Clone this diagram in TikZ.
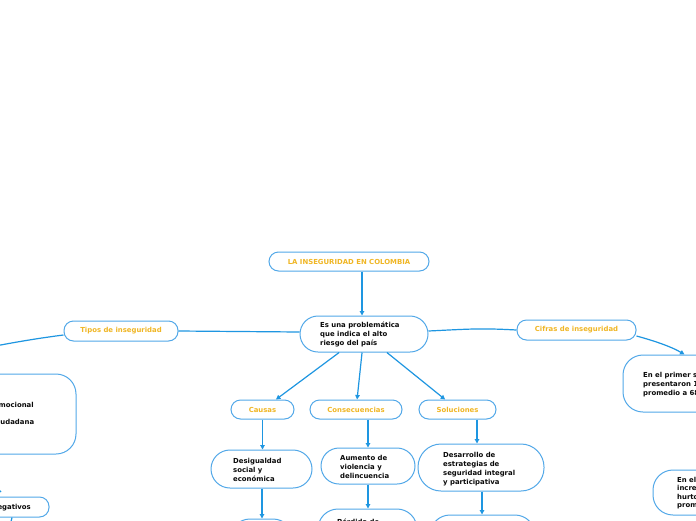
\documentclass[tikz,border=0pt]{standalone}
\usepackage{fontspec}
\setmainfont{DejaVu Sans}
\usetikzlibrary{arrows.meta,calc}
\definecolor{edgeblue}{RGB}{82,168,232}
\definecolor{arrblue}{RGB}{30,150,225}
\definecolor{gold}{RGB}{240,182,36}
\definecolor{ink}{RGB}{10,10,10}
\tikzset{
 box/.style={draw=edgeblue, line width=1pt, fill=white, inner sep=0pt},
 pill/.style={box, rounded corners=9.5pt},
 lbl/.style={font=\fontsize{6.9}{9}\selectfont\bfseries, text=gold},
 txt/.style={font=\fontsize{6.9}{9}\selectfont\bfseries, text=ink, align=left, inner sep=0pt, anchor=west},
 arr/.style={draw=arrblue, line width=1.2pt, -{Triangle[length=4.5pt,width=4.5pt]}},
 link/.style={draw=arrblue, line width=1.2pt},
}
\begin{document}
\begin{tikzpicture}[x=1pt,y=-1pt]
\useasboundingbox (0,0) rectangle (696,520);
\clip (0,0) rectangle (696,520);
\fill[white] (0,0) rectangle (696,520);

% main nodes
\node[pill, lbl, minimum width=160pt, minimum height=19pt] (title) at (349,261.5) {LA INSEGURIDAD EN COLOMBIA};
\node[box, rounded corners=18pt, minimum width=128pt, minimum height=36pt] (central) at (364,334) {};
\node[txt] (centralT) at (320,334) {Es una problemática\\que indica el alto\\riesgo del país};

\node[pill, lbl, minimum width=114pt, minimum height=20pt] (tipos) at (121,331) {Tipos de inseguridad};
\node[pill, lbl, minimum width=119pt, minimum height=20pt] (cifras) at (576.5,330) {Cifras de inseguridad};

\node[pill, lbl, minimum width=63pt, minimum height=19pt] (causas) at (262.5,409.5) {Causas};
\node[pill, lbl, minimum width=92pt, minimum height=19pt] (consec) at (356,409.5) {Consecuencias};
\node[pill, lbl, minimum width=77pt, minimum height=19pt] (soluc) at (457.5,409.5) {Soluciones};

% second level
\node[box, rounded corners=19pt, minimum width=101pt, minimum height=38pt] (desig) at (261.5,469) {};
\node[txt] (desigT) at (233,470) {Desigualdad\\social y\\económica};
\node[box, rounded corners=18pt, minimum width=94pt, minimum height=36pt] (aumento) at (368,466) {};
\node[txt] (aumentoT) at (340,467) {Aumento de\\violencia y\\delincuencia};
\node[box, rounded corners=23pt, minimum width=126pt, minimum height=47pt] (desarr) at (481,467.5) {};
\node[txt] (desarrT) at (443,469) {Desarrollo de\\estrategias de\\seguridad integral\\y participativa};

% third level (cut by the edge)
\node[box, rounded corners=20pt, minimum width=63pt, minimum height=40pt] (desigC) at (261.5,539) {};
\node[box, rounded corners=20pt, minimum width=99pt, minimum height=40pt] (aumentoC) at (367.5,529) {};
\node[txt, anchor=base west] (aumentoCT) at (337,524.5) {Pérdida de};
\node[box, rounded corners=20pt, minimum width=105pt, minimum height=40pt] (desarrC) at (482.5,535) {};

% left side (cut by the edge)
\node[box, rounded corners=20pt, minimum width=150pt, minimum height=80pt] (tiposbox) at (1,414) {};
\node[txt] (tiposT) at (-55,414.5) {Inseguridad emocional\\[8pt]Inseguridad ciudadana};
\node[pill, minimum width=110pt, minimum height=20pt] (efectos) at (-6,507) {};
\node[txt, anchor=east] (efectosT) at (31,507.5) {Efectos negativos};

% right side (cut by the edge)
\node[box, rounded corners=20pt, minimum width=140pt, minimum height=57pt] (enel) at (693,383.5) {};
\node[txt] (enelT) at (643,385) {En el primer semestre\\presentaron 1\\promedio a 68};
\node[box, rounded corners=20pt, minimum width=140pt, minimum height=45pt] (enel2) at (723,492.5) {};
\node[txt, font=\fontsize{6.9}{8.5}\selectfont\bfseries] (enel2T) at (677,493) {En el\\incre\\hurto\\prom};

% connectors
\draw[arr] ([xshift=13pt]title.south) -- ([xshift=13pt]title.south |- central.north);
\draw[link] ([yshift=2pt]central.west) -- (tipos.east);
\draw[link] ([yshift=3pt]central.east) .. controls (470,329) and (480,328) .. (cifras.west);
\coordinate (offL) at (-20,349);
\draw[link] ([yshift=-4pt]tipos.west) .. controls (40,338) and (15,342) .. (offL);
\draw[arr] ([yshift=-6pt]cifras.east) .. controls (655,341) and (672,347) .. ([xshift=62pt]enel.north west);

\draw[arr] (central) -- (causas);
\draw[arr] (central) -- (consec);
\draw[arr] (central) -- (soluc);

\draw[arr] (causas.south) -- (causas.south |- desig.north);
\draw[arr] (aumento.north |- consec.south) -- (aumento.north);
\draw[arr] ([xshift=19.5pt]soluc.south) -- ([xshift=19.5pt]soluc.south |- desarr.north);

\draw[arr] ([xshift=0.5pt]desig.south) -- ([xshift=0.5pt]desig.south |- desigC.north);
\draw[arr] (aumento.south) -- (aumento.south |- aumentoC.north);
\draw[arr] ([xshift=1pt]desarr.south) -- ([xshift=1pt]desarr.south |- desarrC.north);

\coordinate (offA) at (-8,482);
\coordinate (offB) at (1,492);
\draw[link] (offA) -- (offB);
\coordinate (offC) at (10,526);
\draw[link] ([xshift=18pt]efectos.south) -- (offC);
\end{tikzpicture}
\end{document}
